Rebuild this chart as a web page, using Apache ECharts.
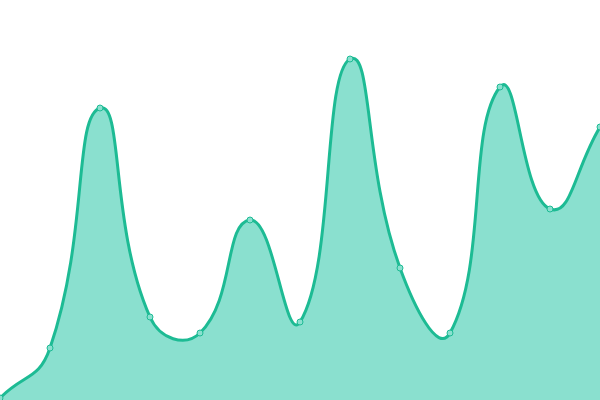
<!DOCTYPE html>
<html><head><meta charset="utf-8">
<script src="https://cdn.jsdelivr.net/npm/echarts@6/dist/echarts.min.js"></script>
<style>html,body{margin:0;padding:0;background:#fff}#c{width:600px;height:400px}</style>
</head><body><div id="c"></div>
<script>
const categories = ['0','1','2','3','4','5','6','7','8','9','10','11','12'];
const values = [2, 52, 292, 83, 67, 180, 78, 341, 132, 67, 313, 191, 273];
const LINE = '#1dbb94', AREA = '#8ae0cf';

function curvePath(pts, smooth) {
  const n = pts.length, cps = [];
  for (let i = 0; i < n; i++) {
    const p = pts[i], prev = pts[i - 1] || p, next = pts[i + 1] || p;
    const vx = (next[0] - prev[0]) * smooth, vy = (next[1] - prev[1]) * smooth;
    let d0 = Math.hypot(p[0] - prev[0], p[1] - prev[1]);
    let d1 = Math.hypot(p[0] - next[0], p[1] - next[1]);
    const s = d0 + d1;
    if (s) { d0 /= s; d1 /= s; }
    cps.push([[p[0] - vx * d0, p[1] - vy * d0], [p[0] + vx * d1, p[1] + vy * d1]]);
  }
  let d = 'M' + pts[0][0] + ' ' + pts[0][1];
  for (let i = 0; i < n - 1; i++) {
    const a = cps[i][1], b = cps[i + 1][0], q = pts[i + 1];
    d += ' C' + a[0] + ' ' + a[1] + ' ' + b[0] + ' ' + b[1] + ' ' + q[0] + ' ' + q[1];
  }
  return d;
}

const chart = echarts.init(document.getElementById('c'));
chart.setOption({
  animation: false,
  grid: {left: 0, right: 0, top: 0, bottom: 0},
  xAxis: {type: 'category', data: categories, boundaryGap: false, show: false},
  yAxis: {type: 'value', min: 0, max: 400, show: false},
  series: [{
    type: 'custom',
    data: values.map((v, i) => [i, v]),
    encode: {x: 0, y: 1},
    z: 1,
    renderItem: function (params, api) {
      if (params.dataIndex !== 0) return null;
      const pts = values.map((v, i) => api.coord([i, v]));
      const base = api.coord([0, 0])[1];
      const line = curvePath(pts, 0.5);
      const area = line + ' L' + pts[pts.length - 1][0] + ' ' + base + ' L' + pts[0][0] + ' ' + base + ' Z';
      return {
        type: 'group',
        children: [
          {type: 'path', shape: {pathData: area}, style: {fill: AREA, stroke: null}},
          {type: 'path', shape: {pathData: line}, style: {fill: null, stroke: LINE, lineWidth: 3}}
        ]
      };
    }
  }, {
    type: 'line', data: values, z: 3,
    symbol: 'circle', symbolSize: 6,
    lineStyle: {opacity: 0, width: 0},
    itemStyle: {color: AREA, borderColor: LINE, borderWidth: 1}
  }]
});
</script></body></html>
